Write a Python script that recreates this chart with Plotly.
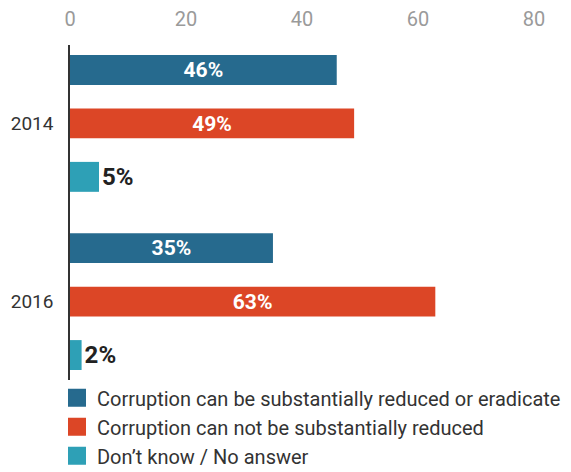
import plotly.graph_objects as go

years = ["2014", "2016"]
series_names = [
    "Corruption can be substantially reduced or eradicate",
    "Corruption can not be substantially reduced",
    "Don\u2019t know / No answer",
]
can_reduce = [46, 35]
cannot_reduce = [49, 63]
dont_know = [5, 2]
colors = ["#266a8e", "#dc4626", "#2ea0b6"]
x_ticks = [0, 20, 40, 60, 80]

fig = go.Figure()
for name, vals, col in zip(series_names, [can_reduce, cannot_reduce, dont_know], colors):
    pos = ["inside" if v >= 10 else "outside" for v in vals]
    fig.add_trace(go.Bar(
        y=years, x=vals, orientation="h", name=name,
        marker=dict(color=col, line=dict(width=0)),
        text=[f"{v}%" for v in vals], textposition=pos,
        insidetextanchor="middle",
        insidetextfont=dict(family="Roboto", size=22, color="white", weight="bold"),
        outsidetextfont=dict(family="Roboto", size=24, color="#222222", weight="bold"),
        cliponaxis=False, showlegend=False, hoverinfo="skip",
    ))
    fig.add_trace(go.Scatter(
        x=[None], y=[None], mode="markers", name=name,
        marker=dict(symbol="square", size=16, color=col, line=dict(color=col, width=2)),
        showlegend=True,
    ))

fig.update_layout(
    width=571, height=472,
    margin=dict(l=70, r=0, t=45, b=92, autoexpand=False),
    paper_bgcolor="white", plot_bgcolor="white",
    barmode="group", bargap=0.10, bargroupgap=0.44,
    font=dict(family="Roboto", color="#333333"),
    xaxis=dict(
        side="top", range=[0, 86.4], tickvals=x_ticks,
        showgrid=False, zeroline=False, showline=False,
        tickfont=dict(size=20, color="#9a9a9a"),
        ticks="", ticklabelstandoff=14, automargin=False,
    ),
    yaxis=dict(
        type="category", range=[1.44, -0.44],
        showgrid=False, zeroline=False,
        showline=True, linecolor="#333333", linewidth=1.5,
        tickfont=dict(size=19, color="#333333"),
        ticks="", ticklabelstandoff=11, automargin=False,
    ),
    legend=dict(
        orientation="v", x=-0.026, xanchor="left", y=0.005, yanchor="top",
        font=dict(size=20, color="#333333"), tracegroupgap=0,
        bgcolor="rgba(0,0,0,0)",
    ),
)

fig.write_html(
    "out.html",
    config={"displayModeBar": False},
    post_script="document.body.style.margin='0';document.body.style.overflow='hidden';",
)
